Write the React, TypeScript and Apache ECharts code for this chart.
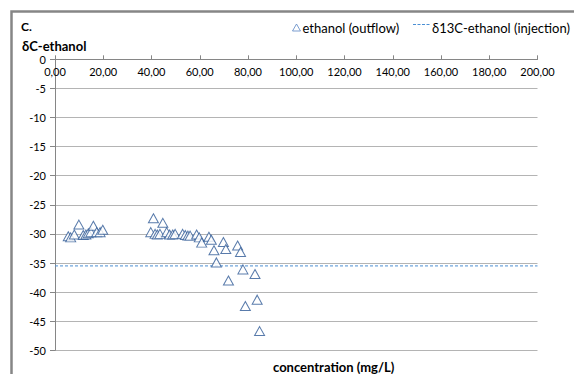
import React, { useEffect, useRef } from "react";
import * as echarts from "echarts";

const concentration = [
  5.5, 6.5, 8.0, 9.9, 11.7, 12.8, 13.8, 14.9, 15.9, 17.3, 18.7, 19.8,
  39.7, 40.8, 41.5, 42.4, 43.5, 44.7, 46.3, 47.5, 48.8, 49.8, 52.9, 54.0,
  55.1, 56.0, 58.7, 59.8, 60.8, 63.8, 64.8, 65.9, 66.9, 69.8, 70.8, 71.9,
  75.7, 76.9, 77.9, 78.9, 82.9, 83.8, 84.8,
];
const deltaC = [
  -30.4, -30.6, -30.1, -28.4, -30.2, -30.1, -29.9, -29.7, -28.6, -29.7, -29.7, -29.3,
  -29.7, -27.3, -30.0, -30.1, -30.0, -28.1, -29.7, -30.1, -30.1, -30.0, -30.0, -30.2,
  -30.3, -30.3, -30.1, -30.6, -31.5, -30.5, -31.0, -32.8, -34.9, -31.4, -32.6, -38.0,
  -32.0, -33.1, -36.1, -42.4, -36.9, -41.3, -46.7,
];
const injectionX = [0, 200];
const injectionY = [-35.5, -35.5];

const seriesNames = ["ethanol (outflow)", "δ13C-ethanol (injection)"];
const panelLabel = "C.";
const yTitle = "δC-ethanol";
const xTitle = "concentration (mg/L)";

const FONT = "Lato, 'Open Sans', sans-serif";
const LINE_COLOR = "#4a8fd4";

export default function App() {
  const ref = useRef<HTMLDivElement>(null);
  useEffect(() => {
    if (!ref.current) return;
    const chart = echarts.init(ref.current, null, { renderer: "svg" });
    chart.setOption({
      animation: false,
      backgroundColor: "#ffffff",
      textStyle: { fontFamily: FONT },
      title: [
        { text: panelLabel, left: 16, top: 15, textStyle: { fontFamily: FONT, fontSize: 12, fontWeight: "bold", color: "#000" } },
        { text: yTitle, left: 17, top: 34, textStyle: { fontFamily: FONT, fontSize: 13, fontWeight: "bold", color: "#000" } },
        { text: xTitle, left: 268, top: 355, textStyle: { fontFamily: FONT, fontSize: 13, fontWeight: "bold", color: "#000" } },
      ],
      legend: [
        {
          data: [{ name: seriesNames[0], icon: "triangle" }],
          left: 287,
          top: 16,
          itemWidth: 8,
          itemHeight: 7,
          itemStyle: { color: "#ffffff", borderColor: "#5a86c4", borderWidth: 1 },
          textStyle: { fontFamily: FONT, fontSize: 13, color: "#000", padding: [0, 0, 0, -3] },
        },
        {
          data: [{ name: seriesNames[1], icon: "none" }],
          left: 407,
          top: 16,
          itemWidth: 20,
          itemHeight: 8,
          textStyle: { fontFamily: FONT, fontSize: 13, color: "#000", padding: [0, 0, 0, -5] },
        },
      ],
      grid: { left: 55, right: 36.5, top: 59.3, bottom: 23.7 },
      xAxis: {
        type: "value",
        position: "top",
        min: 0,
        max: 200,
        interval: 20,
        axisLine: { show: true, onZero: false, lineStyle: { color: "#868686", width: 1 } },
        axisTick: { show: true, inside: false, length: 4, lineStyle: { color: "#868686" } },
        axisLabel: {
          inside: true,
          margin: 7,
          fontSize: 11,
          color: "#000",
          fontFamily: FONT,
          formatter: (v: number) => v.toFixed(2).replace(".", ","),
        },
        splitLine: { show: false },
      },
      yAxis: {
        type: "value",
        min: -50,
        max: 0,
        interval: 5,
        axisLine: { show: true, onZero: false, lineStyle: { color: "#868686", width: 1 } },
        axisTick: { show: true, length: 5, lineStyle: { color: "#868686" } },
        axisLabel: { fontSize: 11, color: "#000", margin: 9, fontFamily: FONT },
        splitLine: { show: true, lineStyle: { color: "#b4b4b4", width: 1 } },
      },
      graphic: [
        {
          type: "rect",
          shape: { x: 11.5, y: 11.5, width: 700, height: 500 },
          style: { fill: "none", stroke: "#868686", lineWidth: 2.5 },
          silent: true,
          z: 100,
        },
        {
          type: "line",
          shape: { x1: 413, y1: 24.5, x2: 431, y2: 24.5 },
          style: { stroke: LINE_COLOR, lineWidth: 1, lineDash: [3, 1.5] },
          silent: true,
          z: 100,
        },
      ],
      series: [
        {
          name: seriesNames[0],
          type: "scatter",
          symbol: "triangle",
          symbolSize: [10, 9],
          itemStyle: { color: "#ffffff", borderColor: "#2f5a96", borderWidth: 1 },
          data: concentration.map((x, i) => [x, deltaC[i]]),
          z: 5,
        },
        {
          name: seriesNames[1],
          type: "line",
          symbol: "none",
          lineStyle: { color: LINE_COLOR, type: [3, 2], width: 1 },
          itemStyle: { color: LINE_COLOR },
          data: injectionX.map((x, i) => [x, injectionY[i]]),
          z: 4,
        },
      ],
    });
    return () => chart.dispose();
  }, []);
  return (
    <div
      ref={ref}
      style={{ position: "absolute", left: 0, top: 0, width: 574, height: 374 }}
    />
  );
}
